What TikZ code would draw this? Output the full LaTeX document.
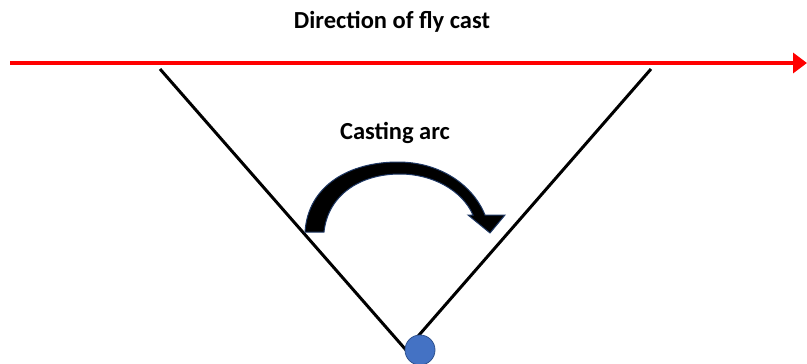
\documentclass[tikz,border=0pt]{standalone}
\usepackage{fontspec}
\setmainfont{Carlito}
\usetikzlibrary{arrows.meta}
\definecolor{castred}{HTML}{FF0000}
\definecolor{ballblue}{HTML}{4472C4}
\definecolor{balledge}{HTML}{2F528F}
\definecolor{arcedge}{HTML}{1F3864}
\tikzset{
  lbl/.style={font=\bfseries\fontsize{24.5}{28}\selectfont, inner sep=0pt},
  vline/.style={line width=3pt, black},
}
\begin{document}
\begin{tikzpicture}[x=1pt,y=-1pt]
\useasboundingbox (0,0) rectangle (807,364);
\node[lbl] (title) at (392,22) {Direction of fly cast};
\node[lbl] (arclbl) at (395,133) {Casting arc};
\coordinate (rs) at (10,63);
\coordinate (re) at (807,63);
\draw[castred, line width=3.5pt, -{Triangle[length=14pt,width=20pt]}] (rs) -- (re);
\coordinate (lt) at (160,69);
\coordinate (rt) at (651,69);
\coordinate (v) at (406,350);
\draw[vline] (lt) -- (v) -- (rt);
\node[circle, fill=ballblue, draw=balledge, line width=0.8pt, minimum size=30pt, inner sep=0pt] (ball) at (420,350) {};
\fill[black, draw=arcedge, line width=1pt]
  (305,232) .. controls (308,185) and (350,162) .. (398,162)
  .. controls (440,162) and (473,185) .. (485,215)
  -- (505,215) -- (490,233) -- (468,215) -- (473,215)
  .. controls (462,190) and (432,174) .. (400,174)
  .. controls (360,174) and (328,195) .. (324,232) -- cycle;
\end{tikzpicture}
\end{document}
